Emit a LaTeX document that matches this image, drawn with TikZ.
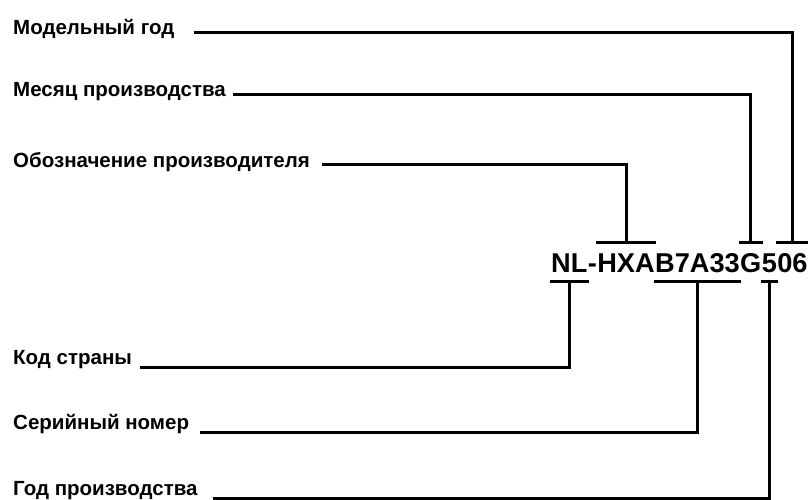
\documentclass[tikz,border=0pt]{standalone}
\usepackage{fontspec}
\setmainfont{Liberation Sans}
\usetikzlibrary{calc}
\tikzset{
  lbl/.style={anchor=base west, inner sep=0pt, font=\fontsize{20.5}{24}\selectfont\bfseries},
  code/.style={anchor=base west, inner sep=0pt, font=\fontsize{27.2}{30}\selectfont\bfseries},
  wire/.style={line width=3pt},
}
\begin{document}
\begin{tikzpicture}[x=1pt,y=1pt]
	\useasboundingbox (0,0) rectangle (808,500);
	% the number, split in its parts
	\node[code] (nl) at (551,227) {NL};
	\node[code] (dash) at (nl.base east) {-};
	\node[code] (hxa) at (dash.base east) {HXA};
	\node[code] (ser) at (hxa.base east) {B7A33};
	\node[code] (mon) at (ser.base east) {G};
	\node[code] (yr) at (mon.base east) {5};
	\node[code] (my) at (yr.base east) {06};
	% bars over and under the parts
	\foreach \g in {hxa,mon,my}
		\draw[wire] ($(\g.base west)+(-1,30)$) -- ($(\g.base east)+(1,30)$) coordinate[midway] (\g-t);
	\foreach \g in {nl,ser,yr}
		\draw[wire] ($(\g.base west)+(-1,-9)$) -- ($(\g.base east)+(1,-9)$) coordinate[midway] (\g-b);
	% labels above
	\node[lbl] (mylbl) at (13,465) {Модельный год};
	\node[lbl] (monlbl) at (13,403) {Месяц производства};
	\node[lbl] (manlbl) at (13,332) {Обозначение производителя};
	% labels below
	\node[lbl] (cclbl) at (13,135) {Код страны};
	\node[lbl] (serlbl) at (13,70) {Серийный номер};
	\node[lbl] (yrlbl) at (13,4) {Год производства};
	% connectors
	\draw[wire] (mylbl.base east) ++(20,2) -| (my-t);
	\draw[wire] (monlbl.base east) ++(7,2) -| (mon-t);
	\draw[wire] (manlbl.base east) ++(12,3) -| (hxa-t);
	\draw[wire] (cclbl.base east) ++(8,-3) -| (nl-b);
	\draw[wire] (serlbl.base east) ++(11,-3) -| (ser-b);
	\draw[wire] (yrlbl.base east) ++(15,-2.5) -| (yr-b);
\end{tikzpicture}
\end{document}
